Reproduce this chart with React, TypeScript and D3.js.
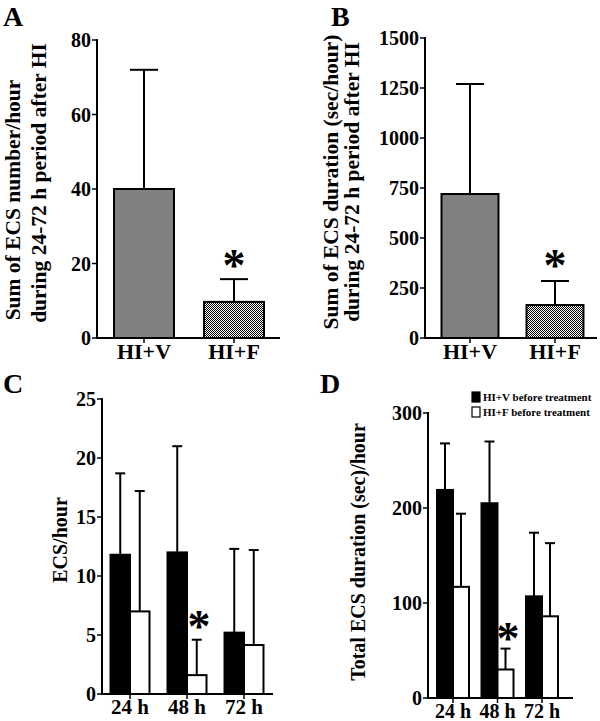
import React from "react";
import * as d3 from "d3";

const groupsAB = ["HI+V", "HI+F"];
const aMeans = [40, 9.7];
const aUpper = [72, 15.8];
const bMeans = [720, 165];
const bUpper = [1270, 285];

const timeLabels = ["24 h", "48 h", "72 h"];
const cBlack = [11.8, 12.0, 5.2];
const cBlackUp = [18.7, 21.0, 12.3];
const cWhite = [7.0, 1.6, 4.15];
const cWhiteUp = [17.2, 4.6, 12.2];
const dBlack = [219, 205, 107];
const dBlackUp = [268, 270, 174];
const dWhite = [117, 30, 86];
const dWhiteUp = [194, 52, 163];

const aTicks = [0, 20, 40, 60, 80];
const bTicks = [0, 250, 500, 750, 1000, 1250, 1500];
const cTicks = [0, 5, 10, 15, 20, 25];
const dTicks = [0, 100, 200, 300];
const legendLabels = ["HI+V before treatment", "HI+F before treatment"];

const FONT = "'Liberation Serif', 'Times New Roman', serif";

function YAxis({ x, y, ticks, fs = 20 }: any) {
  return (
    <g>
      <line x1={x} x2={x} y1={y(ticks[ticks.length - 1]) - 1} y2={y(ticks[0]) + 1} stroke="#000" strokeWidth={2} />
      {ticks.map((t: number) => (
        <g key={t}>
          <line x1={x - 5} x2={x} y1={y(t)} y2={y(t)} stroke="#000" strokeWidth={1.5} />
          <text x={x - 6} y={y(t)} dy="0.35em" textAnchor="end" fontSize={fs} fontWeight="bold" fontFamily={FONT}>
            {t}
          </text>
        </g>
      ))}
    </g>
  );
}

function Err({ x, y0, y1, cap }: any) {
  return (
    <g stroke="#000" strokeWidth={2}>
      <line x1={x} x2={x} y1={y0} y2={y1} />
      <line x1={x - cap / 2} x2={x + cap / 2} y1={y1} y2={y1} />
    </g>
  );
}

function Star({ x, y, fs = 46 }: any) {
  return (
    <text x={x} y={y} dy="0.62em" textAnchor="middle" fontSize={fs} fontWeight="bold" fontFamily={FONT}>
      *
    </text>
  );
}

function PanelAB({ means, upper, ticks, x0, x1, y0, y1, domainMax, xBand, barW, fills, starY, lbl, lines, linesX, labelY, letterX }: any) {
  const y = d3.scaleLinear().domain([0, domainMax]).range([y0, y1]);
  const xs = d3.scalePoint().domain(groupsAB).range(xBand);
  return (
    <g>
      <text x={letterX} y={26} fontSize={28} fontWeight="bold" fontFamily={FONT}>{lbl}</text>
      {lines.map((l: string, i: number) => (
        <text key={i} transform={`translate(${linesX[i]},${labelY[i]}) rotate(-90)`} textAnchor="middle" fontSize={21.5} fontWeight="bold" fontFamily={FONT}>
          {l}
        </text>
      ))}
      {groupsAB.map((g, i) => {
        const cx = xs(g)!;
        return (
          <g key={g}>
            <Err x={cx} y0={y(means[i])} y1={y(upper[i])} cap={28} />
            <rect x={cx - barW / 2} y={y(means[i])} width={barW} height={y0 - y(means[i])} fill={fills[i]} stroke="#000" strokeWidth={2} />
            <line x1={cx} x2={cx} y1={y0} y2={y0 + 5} stroke="#000" strokeWidth={1.5} />
            <text x={cx} y={y0 + 21} textAnchor="middle" fontSize={22} fontWeight="bold" fontFamily={FONT}>{g}</text>
          </g>
        );
      })}
      <line x1={x0 - 1} x2={x1} y1={y0} y2={y0} stroke="#000" strokeWidth={2} />
      <YAxis x={x0} y={y} ticks={ticks} />
      <Star x={xs(groupsAB[1])!} y={starY} />
    </g>
  );
}

function PanelCD({ black, blackUp, white, whiteUp, ticks, x0, x1, y0, y1, domainMax, xBand, barW, cap, starX, starY, lbl, letterX, ylabel, ylabelX, ylabelY, xfs }: any) {
  const y = d3.scaleLinear().domain([0, domainMax]).range([y0, y1]);
  const xs = d3.scalePoint().domain(timeLabels).range(xBand);
  return (
    <g>
      <text x={letterX} y={393} fontSize={28} fontWeight="bold" fontFamily={FONT}>{lbl}</text>
      <text transform={`translate(${ylabelX},${ylabelY}) rotate(-90)`} textAnchor="middle" fontSize={20} fontWeight="bold" fontFamily={FONT}>
        {ylabel}
      </text>
      {timeLabels.map((t, i) => {
        const cx = xs(t)!;
        const bx = cx - barW / 2;
        const wx = cx + barW / 2;
        return (
          <g key={t}>
            <Err x={bx} y0={y(black[i])} y1={y(blackUp[i])} cap={cap} />
            <Err x={wx} y0={y(white[i])} y1={y(whiteUp[i])} cap={cap} />
            <rect x={cx - barW} y={y(black[i])} width={barW} height={y0 - y(black[i])} fill="#000" stroke="#000" strokeWidth={2} />
            <rect x={cx} y={y(white[i])} width={barW} height={y0 - y(white[i])} fill="#fff" stroke="#000" strokeWidth={2} />
            <line x1={cx} x2={cx} y1={y0} y2={y0 + 5} stroke="#000" strokeWidth={1.5} />
            <text x={cx} y={y0 + 20} textAnchor="middle" fontSize={xfs} fontWeight="bold" fontFamily={FONT}>{t}</text>
          </g>
        );
      })}
      <line x1={x0 - 1} x2={x1} y1={y0} y2={y0} stroke="#000" strokeWidth={2} />
      <YAxis x={x0} y={y} ticks={ticks} />
      <Star x={starX} y={starY} />
    </g>
  );
}

export default function App() {
  return (
    <svg width={600} height={721} style={{ position: "absolute", left: 0, top: 0, background: "#fff" }}>
      <defs>
        <pattern id="checker" width={2} height={2} patternUnits="userSpaceOnUse">
          <rect width={2} height={2} fill="#fff" />
          <rect width={1} height={1} fill="#000" />
          <rect x={1} y={1} width={1} height={1} fill="#000" />
        </pattern>
      </defs>
      <rect width={600} height={721} fill="#fff" />
      <PanelAB
        lbl="A" letterX={3} means={aMeans} upper={aUpper} ticks={aTicks}
        x0={97} x1={280} y0={338} y1={40} domainMax={80} xBand={[144, 234]} barW={60}
        fills={["#808080", "url(#checker)"]} starY={252}
        lines={["Sum of ECS number/hour", "during 24-72 h period after HI"]} linesX={[20, 46]} labelY={[200, 183]}
      />
      <PanelAB
        lbl="B" letterX={331} means={bMeans} upper={bUpper} ticks={bTicks}
        x0={425} x1={597} y0={338} y1={38} domainMax={1500} xBand={[470, 555]} barW={57}
        fills={["#808080", "url(#checker)"]} starY={252}
        lines={["Sum of ECS duration (sec/hour)", "during 24-72 h period after HI"]} linesX={[338, 359]} labelY={[182, 182]}
      />
      <PanelCD
        lbl="C" letterX={3} black={cBlack} blackUp={cBlackUp} white={cWhite} whiteUp={cWhiteUp} ticks={cTicks}
        x0={102} x1={273} y0={694} y1={399} domainMax={25} xBand={[130, 244]} barW={19.5} cap={10}
        starX={199} starY={613} ylabel="ECS/hour" ylabelX={67} ylabelY={540} xfs={21}
      />
      <PanelCD
        lbl="D" letterX={320} black={dBlack} blackUp={dBlackUp} white={dWhite} whiteUp={dWhiteUp} ticks={dTicks}
        x0={428} x1={573} y0={698} y1={413} domainMax={300} xBand={[453, 542]} barW={16} cap={10}
        starX={508} starY={625} ylabel="Total ECS duration (sec)/hour" ylabelX={365} ylabelY={552} xfs={20}
      />
      <g fontFamily={FONT} fontWeight="bold" fontSize={11}>
        {legendLabels.map((l, i) => (
          <g key={l}>
            <rect x={472} y={392 + i * 15} width={8} height={10} fill={i === 0 ? "#000" : "#fff"} stroke="#000" strokeWidth={1.2} />
            <text x={483} y={401 + i * 15}>{l}</text>
          </g>
        ))}
      </g>
    </svg>
  );
}
